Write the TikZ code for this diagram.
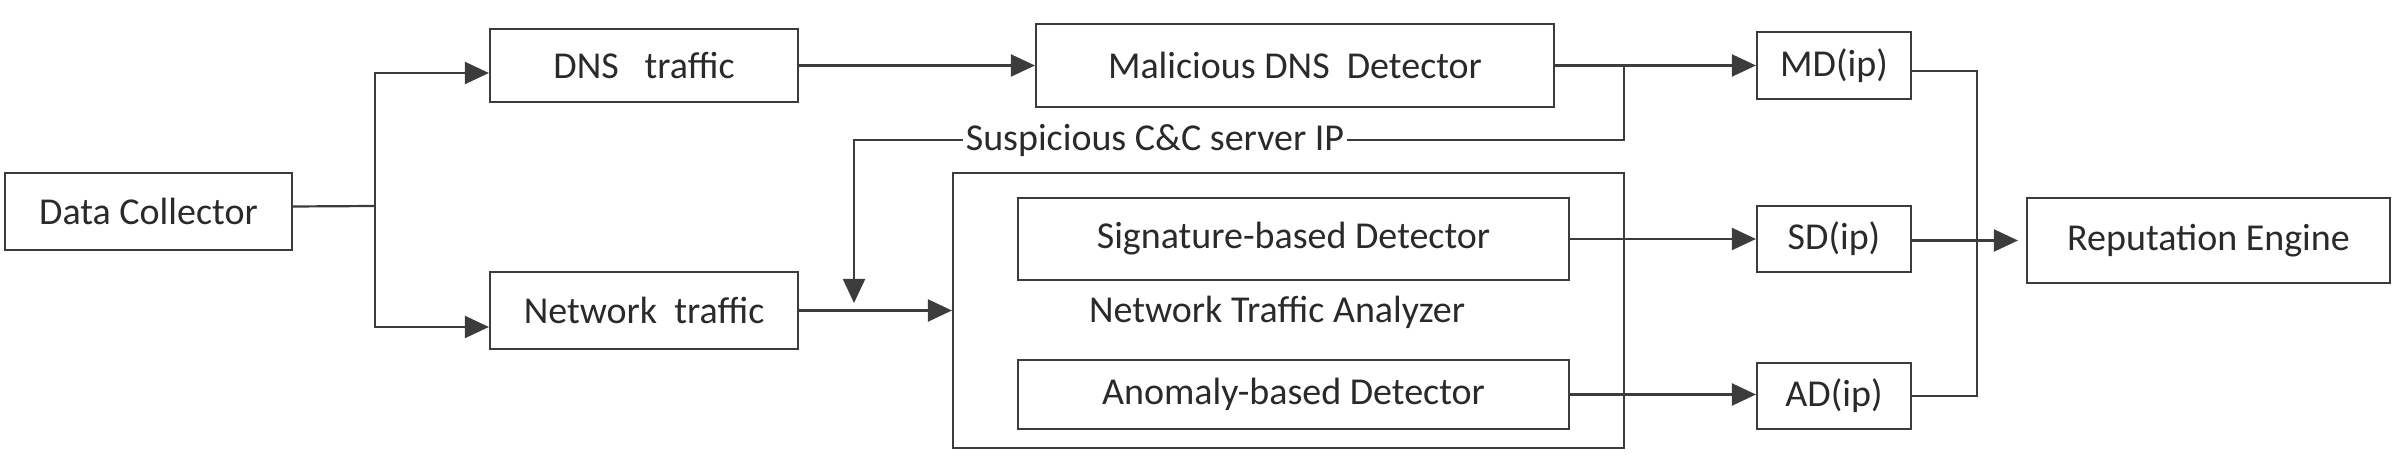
\documentclass[tikz,border=0pt]{standalone}
\usepackage{fontspec}
\setmainfont{Carlito}
\usetikzlibrary{arrows.meta,calc}
\definecolor{ln}{HTML}{3c3c3c}
\definecolor{tx}{HTML}{2a2a2a}
\begin{document}
\begin{tikzpicture}[x=0.5pt,y=-0.5pt,
  txt/.style={text=tx,inner sep=0pt,font=\fontsize{19}{23}\selectfont},
  box/.style={txt,draw=ln,line width=1.1pt},
  sz/.style 2 args={minimum width={#1*0.5pt},minimum height={#2*0.5pt}},
  conn/.style={draw=ln,line width=1.1pt},
  arr/.style={-{Triangle[length=12pt,width=11pt]}}]
\useasboundingbox (0,0) rectangle (2401,458);
% nodes
\node[box,sz={287}{77}] (dc) at (148.5,211.5) {Data Collector};
\node[box,sz={308}{73}] (dns) at (644,65.5) {DNS\ \ \ traffic};
\node[box,sz={308}{77}] (nt) at (644,310.5) {Network\ \ traffic};
\node[box,sz={518}{83}] (mdd) at (1295,65.5) {Malicious DNS\ \ Detector};
\node[box,sz={671}{275}] (nta) at (1288.5,310.5) {};
\node[box,sz={551}{82}] (sig) at (1293.5,239) {Signature-based Detector};
\node[box,sz={551}{69}] (ano) at (1293.5,394.5) {Anomaly-based Detector};
\node[txt] (ntal) at (1277,312) {Network Traffic Analyzer};
\node[box,sz={154}{67}] (md) at (1834,65.5) {MD(ip)};
\node[box,sz={154}{66}] (sd) at (1834,239) {SD(ip)};
\node[box,sz={154}{66}] (ad) at (1834,396) {AD(ip)};
\node[box,sz={363}{85}] (re) at (2208.5,240.5) {Reputation Engine};
\node[txt,inner xsep=1pt] (sus) at (1155,140) {Suspicious C\&C server IP};
% junctions
\coordinate (j1) at (375,206);
\coordinate (j2) at (1624,65.5);
\coordinate (j3) at (854,303);
\coordinate (j4) at (1977,71);
% connectors
\draw[conn] ($(dc.east)+(0,-5)$) -- (j1);
\draw[conn,arr] (j1) |- ($(dns.west)+(0,7.5)$);
\draw[conn,arr] (j1) |- ($(nt.west)+(0,16.5)$);
\draw[conn,arr] (dns.east) -- (mdd.west);
\draw[conn,arr] (mdd.east) -- (md.west);
\draw[conn] (j2) |- (sus.east);
\draw[conn,arr] (sus.west) -| (j3);
\draw[conn,arr] (nt.east) -- (nta.west);
\draw[conn,arr] (sig.east) -- (sd.west);
\draw[conn,arr] (ano.east) -- (ano.east -| ad.west);
\draw[conn] ($(md.east)+(0,5.5)$) -- (j4) |- (ad.east);
\draw[conn,arr,shorten >=4pt] ($(sd.east)+(0,1.5)$) -- (re.west);
\end{tikzpicture}
\end{document}
